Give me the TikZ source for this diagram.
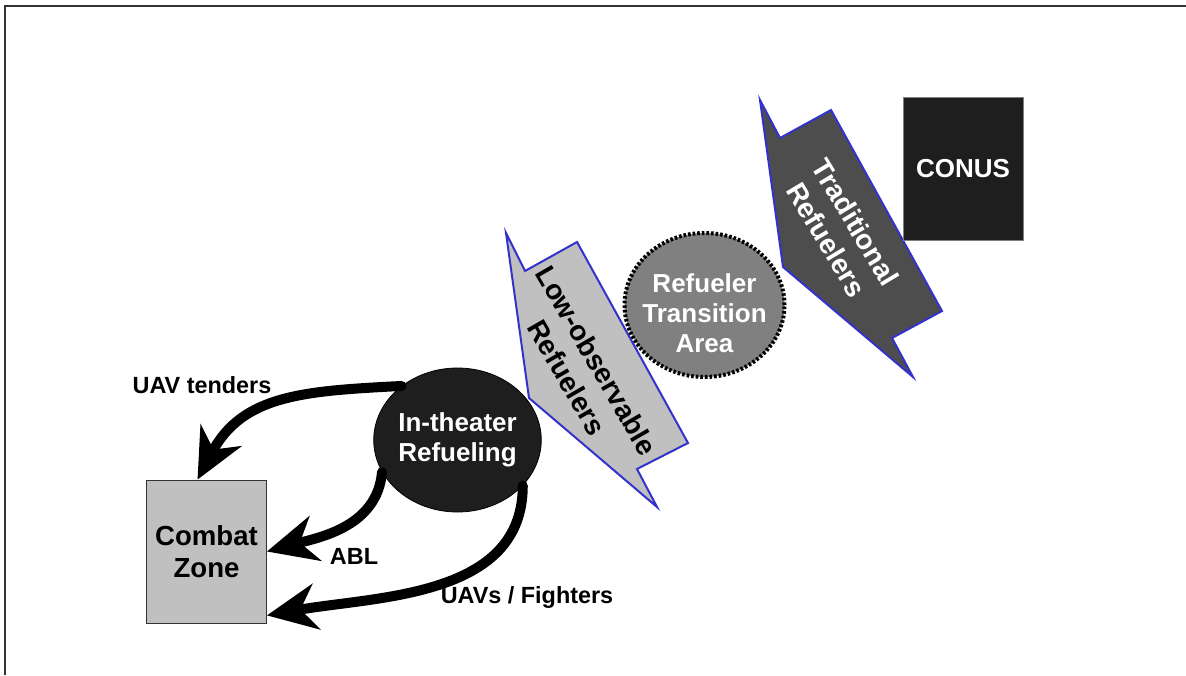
\documentclass[tikz,border=0pt]{standalone}
\usepackage{fontspec}
\setmainfont{Liberation Sans}
\usetikzlibrary{arrows.meta, positioning, shapes.geometric}

\definecolor{darkfill}{HTML}{1E1E1E}
\definecolor{midfill}{HTML}{808080}
\definecolor{lightfill}{HTML}{C0C0C0}
\definecolor{tradfill}{HTML}{4D4D4D}
\definecolor{edgeblue}{HTML}{3333CC}

\begin{document}
\begin{tikzpicture}[
        x=0.5pt, y=0.5pt,
        font=\bfseries,
        bubble/.style={ellipse, minimum width=80pt, minimum height=72pt, inner sep=0pt,
            align=center, text=white, font=\fontsize{13}{15}\selectfont\bfseries},
        block/.style={rectangle, minimum width=60pt, minimum height=71.5pt, inner sep=0pt, align=center},
        flow/.style={line width=5pt, line cap=round, -{Stealth[length=25pt, width=23pt, inset=8pt]}},
        lbl/.style={font=\fontsize{11.7}{14}\selectfont\bfseries},
        wedge/.style={draw=edgeblue, line width=1pt, line join=miter},
        wedgetext/.style={align=center, font=\fontsize{14}{17}\selectfont\bfseries}
    ]
    \useasboundingbox (0,0) rectangle (1186,-675);
    \draw[line width=1pt, black!80] (5,-675) -- (5,-6) -- (1186,-6);

    % refueler arrows
    \filldraw[wedge, fill=lightfill] (506,-233) -- (525,-271) -- (577,-242) -- (688,-443)
        -- (637,-469) -- (657,-507) -- (529,-398) -- cycle;
    \filldraw[wedge, fill=tradfill] (760,-100) -- (780,-138) -- (831,-110) -- (942,-311)
        -- (892,-338) -- (913,-377) -- (783,-267) -- cycle;
    \node (lowobs) [wedgetext, rotate=-60] at (582,-369) {Low-observable\\Refuelers};
    \node (trad) [wedgetext, rotate=-59, text=white] at (841,-231) {Traditional\\Refuelers};

    % places
    \node (conus) [block, fill=darkfill, draw=gray, text=white,
        font=\fontsize{13}{15}\selectfont\bfseries] at (963,-168.5) {CONUS};
    \node (combat) [block, fill=lightfill, draw=black!80,
        font=\fontsize{13.8}{16}\selectfont\bfseries] at (206.5,-551.5) {Combat\\Zone};
    \node (transit) [bubble, fill=midfill, draw=black, line width=2pt,
        dash pattern=on 1.3pt off 1pt] at (704.5,-305) {};
    \node (transitlbl) [bubble, minimum size=0pt] at ([yshift=-4pt]transit.center) {Refueler\\Transition\\Area};
    \node (theater) [bubble, fill=darkfill, draw=black] at (457.5,-440) {In-theater\\Refueling};

    % flows to the combat zone
    \draw[flow] (theater.136) to[out=183, in=62, looseness=1.1] ([xshift=-4.5pt]combat.north);
    \draw[flow] (theater.203) to[out=265, in=15] (combat.east);
    \draw[flow] (theater.325) to[out=270, in=10] ([yshift=4pt]combat.south east);

    \node (tenders) [lbl] at (202,-385) {UAV tenders};
    \node (abl) [lbl] at (354,-556) {ABL};
    \node (fighters) [lbl] at (527,-597) {UAVs / Fighters};
\end{tikzpicture}
\end{document}
